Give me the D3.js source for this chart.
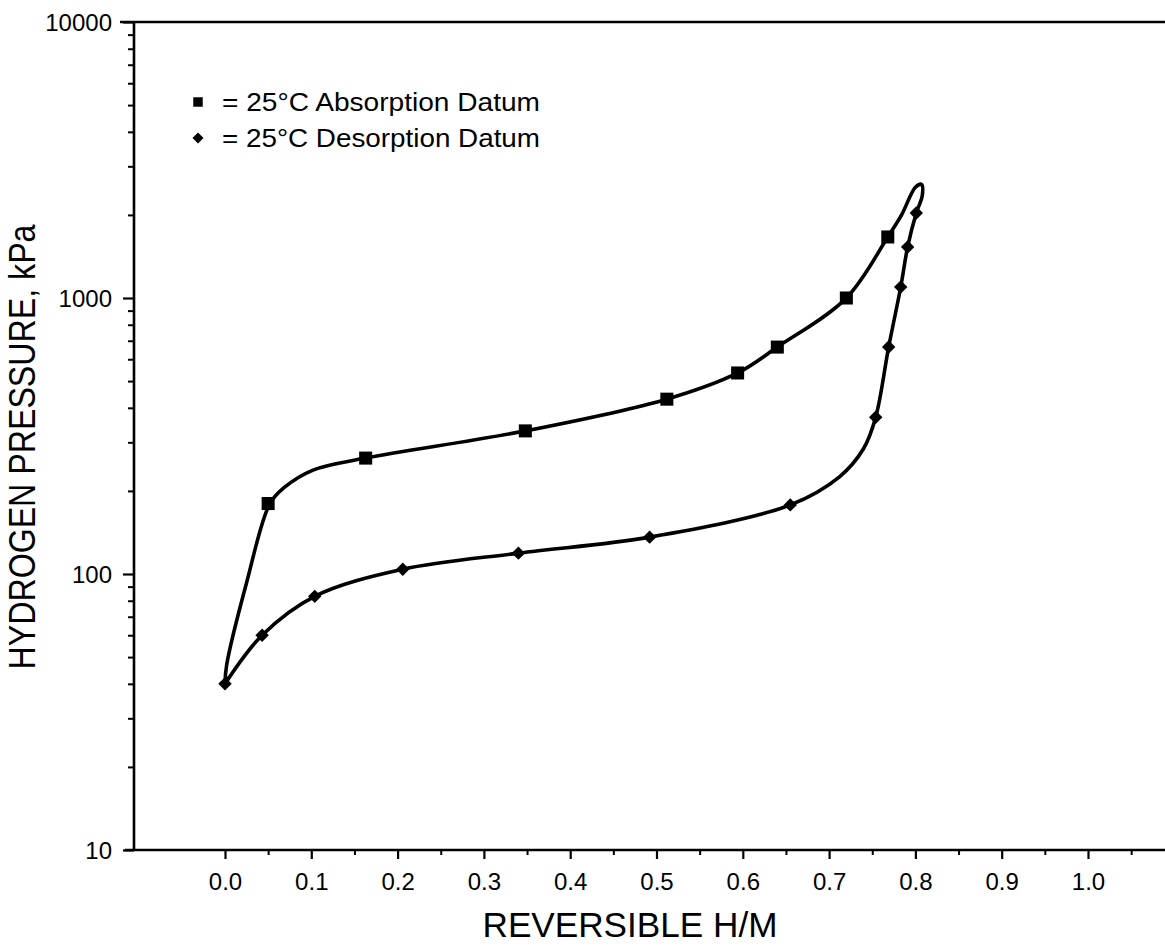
<!DOCTYPE html>
<html>
<head>
<meta charset="utf-8">
<script src="https://cdn.jsdelivr.net/npm/d3@7"></script>
<style>
  html, body { margin: 0; padding: 0; background: #fff; }
  svg { display: block; }
  text { font-family: "Liberation Sans", "DejaVu Sans", sans-serif; fill: #000; }
</style>
</head>
<body>
<svg id="chart" width="1165" height="946"></svg>
<script>
// Reversible H/M vs hydrogen pressure at 25 °C
const absorptionHM = [0.05, 0.163, 0.348, 0.512, 0.594, 0.640, 0.720, 0.768];
const absorptionKPa = [180, 263, 330, 430, 535, 664, 1000, 1664];

const desorptionHM = [0.0, 0.043, 0.104, 0.206, 0.340, 0.492, 0.655, 0.754, 0.769, 0.783, 0.791, 0.801];
const desorptionKPa = [40, 60, 83, 104, 119, 136, 178, 370, 664, 1096, 1531, 2032];

// hand-fitted isotherm loop: up the absorption branch, round the top, back down the desorption branch
const loopHM = [0.0, 0.002, 0.025, 0.052, 0.068, 0.102, 0.163, 0.348, 0.512, 0.594, 0.640, 0.720, 0.768, 0.784,
                0.800, 0.807, 0.808, 0.801, 0.791, 0.783, 0.769, 0.754, 0.740, 0.712, 0.655, 0.492, 0.340,
                0.206, 0.104, 0.043, 0.0];
const loopKPa = [40, 47, 93, 180, 205, 238, 263, 330, 430, 535, 664, 1000, 1664, 2000,
                 2520, 2580, 2350, 2032, 1531, 1096, 664, 370, 285, 225, 178, 136, 119,
                 104, 83, 60, 40];

const xTickValues = [0.0, 0.1, 0.2, 0.3, 0.4, 0.5, 0.6, 0.7, 0.8, 0.9, 1.0];
const xTickLabels = ["0.0", "0.1", "0.2", "0.3", "0.4", "0.5", "0.6", "0.7", "0.8", "0.9", "1.0"];
const xMinorTicks = [0.05, 0.15, 0.25, 0.35, 0.45, 0.55, 0.65, 0.75, 0.85, 0.95, 1.05];
const yTickValues = [10, 100, 1000, 10000];
const yTickLabels = ["10", "100", "1000", "10000"];

const legendLabels = ["= 25\u00B0C Absorption Datum", "= 25\u00B0C Desorption Datum"];
const xTitle = "REVERSIBLE H/M";
const yTitle = "HYDROGEN PRESSURE, kPa";

const svg = d3.select("#chart");
const W = 1165, H = 946;
const plotLeft = 134, plotTop = 22, plotBottom = 850;

const x = d3.scaleLinear().domain([0, 1]).range([225, 1088]);
const y = d3.scaleLog().domain([10, 10000]).range([plotBottom, plotTop]);

const ink = "#000";

// frame: top rule, left axis, bottom axis
svg.append("line").attr("x1", 120).attr("x2", W).attr("y1", plotTop).attr("y2", plotTop)
  .attr("stroke", ink).attr("stroke-width", 2.6);
svg.append("line").attr("x1", plotLeft).attr("x2", plotLeft).attr("y1", plotTop).attr("y2", plotBottom)
  .attr("stroke", ink).attr("stroke-width", 2.6);
svg.append("line").attr("x1", 125).attr("x2", W).attr("y1", plotBottom).attr("y2", plotBottom)
  .attr("stroke", ink).attr("stroke-width", 2.6);

// y axis (log) with major and minor ticks on the outside
const yMinor = [];
[10, 100, 1000].forEach(d => { for (let k = 2; k <= 9; k++) yMinor.push(d * k); });
const yAxis = d3.axisLeft(y).tickValues(yTickValues).tickSize(11).tickPadding(10)
  .tickFormat((d, i) => yTickLabels[i]);
const gy = svg.append("g").attr("transform", `translate(${plotLeft},0)`).call(yAxis);
gy.select(".domain").remove();
gy.selectAll(".tick line").attr("stroke", ink).attr("stroke-width", 2.2);
gy.selectAll(".tick text").attr("font-size", 24).attr("font-family", "Liberation Sans, sans-serif")
  .attr("dy", "0.36em").attr("x", -22);
const gyMinor = svg.append("g").attr("transform", `translate(${plotLeft},0)`)
  .call(d3.axisLeft(y).tickValues(yMinor).tickSize(6).tickFormat(""));
gyMinor.select(".domain").remove();
gyMinor.selectAll(".tick line").attr("stroke", ink).attr("stroke-width", 2);

// x axis with major and minor ticks below
const xAxis = d3.axisBottom(x).tickValues(xTickValues).tickSize(9).tickPadding(14)
  .tickFormat((d, i) => xTickLabels[i]);
const gx = svg.append("g").attr("transform", `translate(0,${plotBottom})`).call(xAxis);
gx.select(".domain").remove();
gx.selectAll(".tick line").attr("stroke", ink).attr("stroke-width", 2.2);
gx.selectAll(".tick text").attr("font-size", 24).attr("font-family", "Liberation Sans, sans-serif");
const gxMinor = svg.append("g").attr("transform", `translate(0,${plotBottom})`)
  .call(d3.axisBottom(x).tickValues(xMinorTicks).tickSize(5).tickFormat(""));
gxMinor.select(".domain").remove();
gxMinor.selectAll(".tick line").attr("stroke", ink).attr("stroke-width", 2);

// axis titles
svg.append("text").attr("x", 630).attr("y", 937).attr("text-anchor", "middle")
  .attr("font-size", 35).attr("textLength", 295).attr("lengthAdjust", "spacingAndGlyphs")
  .text(xTitle);
svg.append("text").attr("transform", `translate(35,447) rotate(-90)`).attr("text-anchor", "middle")
  .attr("font-size", 36).attr("textLength", 445).attr("lengthAdjust", "spacingAndGlyphs")
  .text(yTitle);

// isotherm loop
const loop = loopHM.map((h, i) => [h, loopKPa[i]]);
const line = d3.line().x(d => x(d[0])).y(d => y(d[1])).curve(d3.curveCatmullRom.alpha(0.5));
svg.append("path").attr("d", line(loop)).attr("fill", "none").attr("stroke", ink)
  .attr("stroke-width", 3.6).attr("stroke-linejoin", "round").attr("stroke-linecap", "round");

// data markers
const squareSym = d3.symbol(d3.symbolSquare, 170);
const diamondSym = d3.symbol(d3.symbolSquare, 90);
svg.append("g").selectAll("path").data(absorptionHM).join("path")
  .attr("d", squareSym)
  .attr("transform", (d, i) => `translate(${x(d)},${y(absorptionKPa[i])})`)
  .attr("fill", ink);
svg.append("g").selectAll("path").data(desorptionHM).join("path")
  .attr("d", diamondSym)
  .attr("transform", (d, i) => `translate(${x(d)},${y(desorptionKPa[i])}) rotate(45)`)
  .attr("fill", ink);

// legend
const legend = svg.append("g").attr("transform", "translate(198,102)");
legend.append("path").attr("d", d3.symbol(d3.symbolSquare, 90)).attr("fill", ink);
legend.append("path").attr("d", d3.symbol(d3.symbolSquare, 60)).attr("fill", ink)
  .attr("transform", "translate(0,36) rotate(45)");
legend.selectAll("text").data(legendLabels).join("text")
  .attr("x", 24).attr("y", (d, i) => i * 36).attr("dy", "0.36em")
  .attr("font-size", 25).attr("textLength", 318).attr("lengthAdjust", "spacingAndGlyphs")
  .text(d => d);
</script>
</body>
</html>
